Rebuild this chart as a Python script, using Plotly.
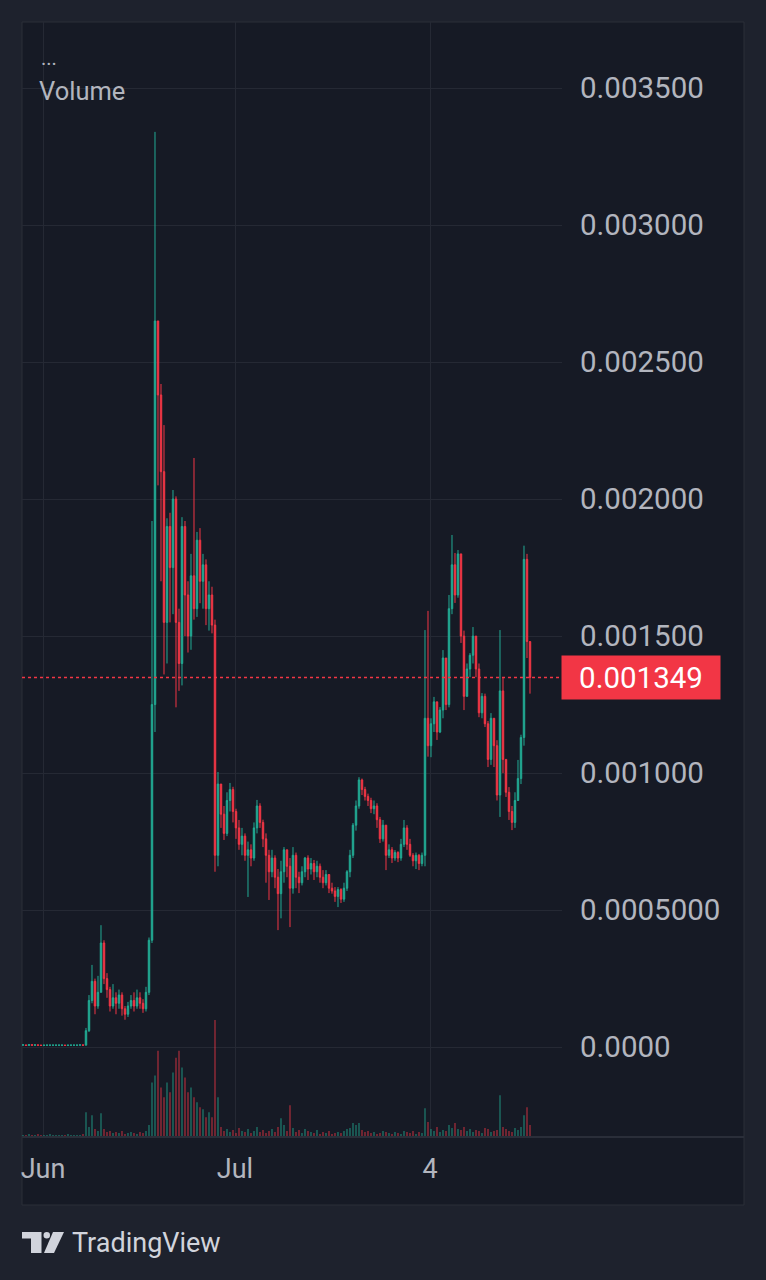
import plotly.graph_objects as go

# prices are kept in millionths (1349 -> 0.001349)
CLOSE_U6 = [
    8, 6, 9, 7, 8, 7, 6, 7, 7, 7, 7, 7, 7, 7, 6, 7, 7, 7, 7, 8, 7,
    60, 170, 240, 150, 200, 380, 250, 210, 150, 180, 160, 190, 140, 120, 150, 170, 150, 180, 160, 140, 200,
    390, 1250, 2650, 2380, 2100, 1550, 1900, 1750, 2000, 1550, 1400, 1900, 1650, 1500, 1720, 1600, 1850, 1700,
    1760, 1600, 1650, 1540, 700,
    960, 850, 780, 900, 940, 860, 800, 740, 770, 700, 720, 690, 800, 880, 820, 760, 700, 640, 690, 620,
    560, 640, 720, 660, 580, 700, 620, 600, 640, 690, 650, 670, 640, 660, 620, 600, 630, 580, 570, 550,
    575, 540, 580, 640, 700, 810, 880, 975, 940, 915, 900, 870, 880, 830, 760, 810, 700, 720, 690, 710,
    690, 740, 800, 740, 700, 680, 700, 670, 700,
    1200, 1100, 1180, 1260, 1150, 1230, 1420, 1250, 1600, 1760, 1650, 1800, 1500, 1280, 1380, 1430, 1500,
    1380, 1220, 1280, 1180, 1050, 1200, 1100, 920, 1300, 1050, 930, 860, 820, 900, 980, 1130, 1780, 1480, 1349,
]
HIGH_U6 = [
    10, 9, 11, 9, 10, 9, 9, 9, 9, 9, 9, 9, 9, 9, 9, 9, 9, 9, 9, 10, 9,
    70, 190, 300, 250, 260, 445, 390, 270, 220, 230, 200, 210, 200, 150, 165, 190, 200, 210, 200, 175, 220,
    400, 1920, 3340, 2650, 2420, 2270, 1930, 1950, 2033, 2010, 1600, 1934, 1920, 1700, 1800, 2150, 1880, 1894,
    1800, 1780, 1700, 1680, 1560,
    1004, 940, 880, 930, 964, 950, 870, 829, 800, 780, 750, 740, 820, 902, 890, 830, 780, 720, 720, 700,
    650, 680, 730, 720, 690, 730, 710, 640, 660, 694, 700, 690, 683, 680, 670, 646, 646, 630, 600, 584,
    584, 580, 600, 646, 720, 818, 900, 985, 980, 950, 925, 910, 900, 890, 840, 829, 810, 740, 730, 719,
    715, 760, 829, 810, 760, 708, 710, 705, 710,
    1522, 1592, 1200, 1278, 1260, 1241, 1449, 1400, 1650, 1869, 1803, 1814, 1789, 1520, 1400, 1438, 1533,
    1490, 1400, 1292, 1290, 1190, 1219, 1200, 1120, 1522, 1350, 1048, 949, 880, 930, 1048, 1140, 1830, 1800, 1480,
]
LOW_U6 = [
    5, 4, 6, 5, 5, 5, 4, 5, 5, 5, 5, 5, 5, 5, 4, 5, 5, 5, 5, 6, 5,
    7, 55, 160, 120, 140, 200, 230, 180, 130, 140, 120, 140, 115, 100, 110, 140, 130, 140, 140, 125, 130,
    190, 380, 1150, 2050, 1700, 1360, 1400, 1550, 1580, 1240, 1300, 1320, 1500, 1440, 1450, 1560, 1570, 1620,
    1600, 1540, 1520, 1510, 640,
    660, 800, 756, 770, 860, 820, 760, 720, 700, 680, 548, 660, 680, 780, 800, 730, 600, 537, 620, 580,
    427, 470, 600, 620, 438, 560, 580, 562, 590, 620, 610, 630, 610, 620, 600, 580, 590, 562, 560, 530,
    511, 526, 530, 570, 620, 690, 790, 870, 920, 900, 880, 854, 850, 800, 745, 750, 646, 690, 672, 680,
    675, 680, 730, 720, 694, 660, 650, 646, 660,
    660, 1060, 1058, 1150, 1121, 1146, 1200, 1230, 1240, 1580, 1621, 1640, 1475, 1230, 1280, 1350, 1400,
    1350, 1204, 1200, 1168, 1022, 1030, 1022, 900, 840, 1000, 913, 829, 792, 800, 900, 960, 1100, 1420, 1290,
]
VOLUME = [
    2, 2, 3, 2, 2, 3, 2, 2, 2, 3, 2, 2, 2, 2, 2, 3, 2, 2, 2, 2, 3,
    25, 10, 22, 8, 6, 24, 8, 5, 6, 4, 5, 4, 6, 3, 4, 5, 4, 3, 5, 4, 6,
    12, 55, 62, 87, 50, 40, 55, 45, 65, 80, 87, 70, 60, 45, 50, 40, 35, 30, 28, 20, 25, 20, 118,
    40, 10, 6, 8, 5, 7, 4, 9, 6, 5, 8, 4, 6, 10, 5, 7, 4, 6, 8, 5,
    10, 19, 12, 6, 32, 9, 5, 7, 4, 8, 6, 5, 4, 7, 3, 5, 4, 6, 3, 4,
    5, 4, 6, 8, 9, 14, 12, 14, 7, 5, 6, 4, 5, 3, 4, 6, 5, 4, 3, 5,
    4, 3, 6, 5, 4, 6, 3, 5, 4,
    29, 15, 8, 6, 10, 5, 7, 6, 12, 9, 14, 8, 7, 10, 6, 8, 5, 7, 6, 4,
    9, 8, 5, 6, 7, 42, 10, 8, 6, 5, 9, 7, 10, 22, 30, 12,
]
LAST_PRICE = 0.001349
LAST_LABEL = "0.001349"

PRICE_TICKS = [0.0, 0.0005, 0.001, 0.0015, 0.002, 0.0025, 0.003, 0.0035]
PRICE_TICK_TEXT = ["0.0000", "0.0005000", "0.001000", "0.001500", "0.002000", "0.002500", "0.003000", "0.003500"]
TIME_TICK_POS = [6.67, 70.67, 135.67]
TIME_TICK_TEXT = ["Jun", "Jul", "4"]

UP = "#22ab94"
DOWN = "#f23645"
UP_VOL = "rgba(34,171,148,0.5)"
DOWN_VOL = "rgba(242,54,69,0.5)"
OUTER_BG = "#1e222d"
INNER_BG = "#161a25"
GRID = "#252934"
BORDER = "#2a2e39"
TEXT = "#b2b5be"
FONT = "Roboto"

OFF = 8  # the page puts the figure 8px in from the top-left corner
W, H = 766 - OFF, 1280 - OFF
PL, PR, PT, PB = 22 - OFF, 562 - OFF, 22 - OFF, 1137 - OFF


def px_x(px):
    return (px - OFF - PL) / (PR - PL)


def px_y(py):
    return (PB - (py - OFF)) / (PB - PT)


def poly(points):
    return "M " + " L ".join(f"{px_x(x):.5f},{px_y(y):.5f}" for x, y in points) + " Z"


close = [v * 1e-6 for v in CLOSE_U6]
opens = [close[0]] + close[:-1]
high = [max(h * 1e-6, o, c) for h, o, c in zip(HIGH_U6, opens, close)]
low = [min(lo * 1e-6, o, c) for lo, o, c in zip(LOW_U6, opens, close)]
idx = list(range(len(close)))
vol_colors = [UP_VOL if c >= o else DOWN_VOL for o, c in zip(opens, close)]

fig = go.Figure()
fig.add_trace(go.Bar(x=idx, y=VOLUME, marker_color=vol_colors, marker_line_width=0, yaxis="y2", showlegend=False))
fig.add_trace(
    go.Candlestick(
        x=idx, open=opens, high=high, low=low, close=close,
        increasing={"line": {"color": UP, "width": 1}, "fillcolor": UP},
        decreasing={"line": {"color": DOWN, "width": 1}, "fillcolor": DOWN},
        whiskerwidth=0, showlegend=False,
    )
)

fig.update_layout(
    width=W, height=H,
    margin={"l": PL, "r": W - PR, "t": PT, "b": H - PB},
    paper_bgcolor=OUTER_BG, plot_bgcolor=INNER_BG,
    font={"family": FONT, "size": 28, "color": TEXT},
    bargap=0.45,
    xaxis={
        "range": [-0.33, 179.67], "rangeslider": {"visible": False},
        "tickvals": TIME_TICK_POS, "ticktext": TIME_TICK_TEXT,
        "showgrid": True, "gridcolor": GRID, "gridwidth": 1,
        "zeroline": False, "ticks": "", "ticklabelstandoff": 13,
        "tickfont": {"size": 27, "color": TEXT},
    },
    yaxis={
        "range": [-0.000328, 0.003741], "side": "right",
        "tickvals": PRICE_TICKS, "ticktext": PRICE_TICK_TEXT,
        "showgrid": True, "gridcolor": GRID, "gridwidth": 1,
        "zeroline": False, "ticks": "", "ticklabelstandoff": 17,
        "tickfont": {"size": 29.5, "color": TEXT},
    },
    yaxis2={"overlaying": "y", "range": [0, max(VOLUME) / 0.105], "visible": False},
    shapes=[
        {"type": "rect", "xref": "paper", "yref": "paper", "x0": px_x(22), "x1": px_x(744),
         "y0": px_y(1205), "y1": px_y(22), "fillcolor": INNER_BG, "line": {"color": BORDER, "width": 1}, "layer": "below"},
        {"type": "line", "xref": "paper", "yref": "paper", "x0": px_x(22), "x1": px_x(744),
         "y0": px_y(1137), "y1": px_y(1137), "line": {"color": BORDER, "width": 2}},
        {"type": "line", "xref": "paper", "yref": "y", "x0": 0, "x1": 1,
         "y0": LAST_PRICE, "y1": LAST_PRICE, "line": {"color": DOWN, "width": 1.5, "dash": "dot"}},
        {"type": "path", "xref": "paper", "yref": "paper", "fillcolor": "#d1d4dc", "line": {"width": 0},
         "path": poly([(22, 1232), (41.5, 1232), (41.5, 1253), (31, 1253), (31, 1238.5), (22, 1238.5)])},
        {"type": "circle", "xref": "paper", "yref": "paper", "fillcolor": "#d1d4dc", "line": {"width": 0},
         "x0": px_x(43.5), "x1": px_x(50), "y0": px_y(1238.5), "y1": px_y(1232)},
        {"type": "path", "xref": "paper", "yref": "paper", "fillcolor": "#d1d4dc", "line": {"width": 0},
         "path": poly([(53, 1232), (64, 1232), (54, 1253), (44, 1253)])},
    ],
    annotations=[
        {"xref": "paper", "yref": "y", "x": 1, "y": LAST_PRICE, "xanchor": "left", "yanchor": "middle",
         "xshift": -1, "text": LAST_LABEL, "showarrow": False, "bgcolor": DOWN, "width": 150, "height": 35,
         "borderpad": 4, "align": "center", "font": {"size": 29.5, "color": "#ffffff"}},
        {"xref": "paper", "yref": "paper", "x": px_x(39), "y": px_y(58), "xanchor": "left", "yanchor": "middle",
         "text": "...", "showarrow": False, "font": {"size": 20, "color": TEXT}},
        {"xref": "paper", "yref": "paper", "x": px_x(37), "y": px_y(91), "xanchor": "left", "yanchor": "middle",
         "text": "Volume", "showarrow": False, "font": {"size": 25.5, "color": TEXT}},
        {"xref": "paper", "yref": "paper", "x": px_x(70), "y": px_y(1243), "xanchor": "left", "yanchor": "middle",
         "text": "TradingView", "showarrow": False, "font": {"size": 27, "color": "#d1d4dc"}},
    ],
)

# paint the page margin around the figure in the same dark tone
fig.write_html("out.html", post_script=f"document.body.style.background = '{OUTER_BG}';")
